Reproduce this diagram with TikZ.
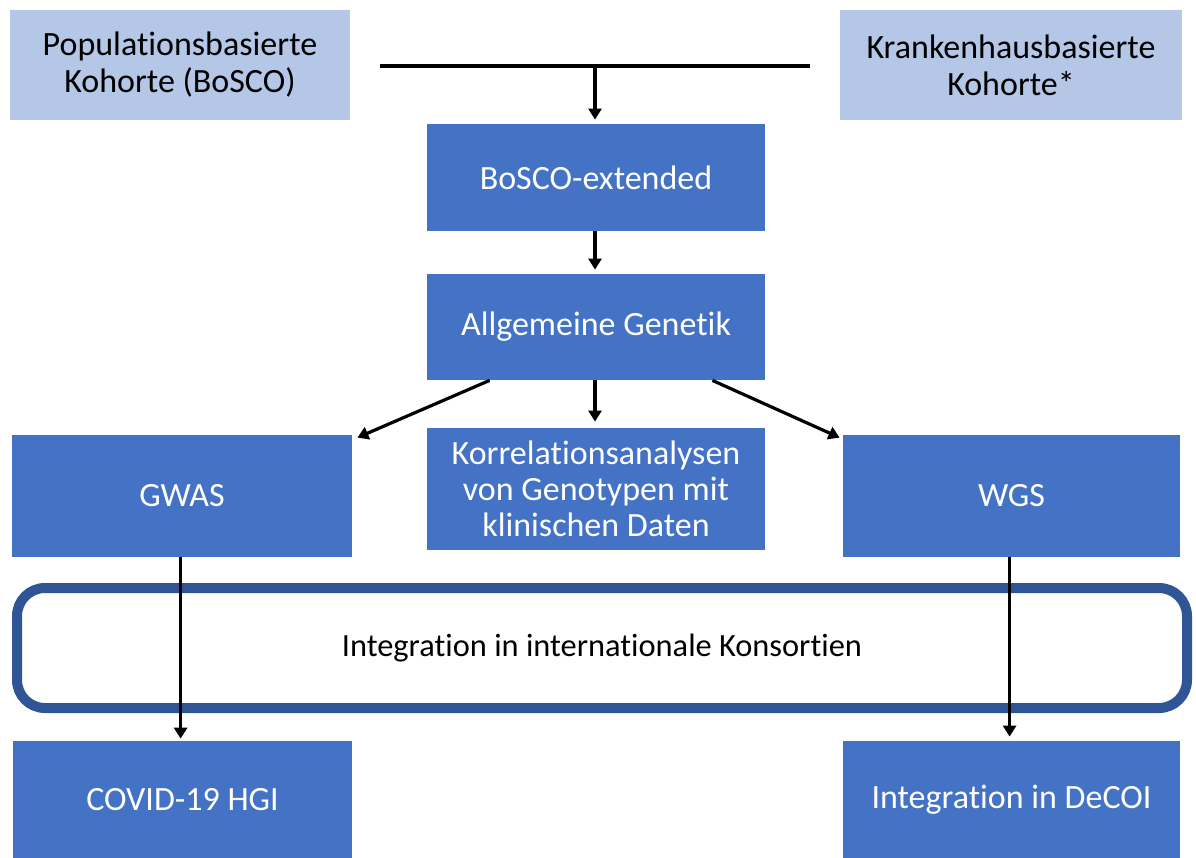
\documentclass[tikz,border=0pt]{standalone}
\usepackage{fontspec}
\setmainfont[Ligatures={NoCommon}]{Carlito}
\usetikzlibrary{arrows.meta,calc}
\definecolor{lightbox}{HTML}{B4C7E7}
\definecolor{darkbox}{HTML}{4472C4}
\definecolor{frameblue}{HTML}{2F5597}
\begin{document}
\begin{tikzpicture}[x=0.5pt,y=-0.5pt,
  lbox/.style={fill=lightbox,draw=none,align=center,text=black,inner sep=0pt,
    font=\fontsize{17pt}{18.5pt}\selectfont},
  dbox/.style={fill=darkbox,draw=none,align=center,text=white,inner sep=0pt,
    font=\fontsize{17pt}{18pt}\selectfont},
  arr/.style={line width=1.6pt,-{Triangle[width=6.5pt,length=5.5pt]}},
  plain/.style={line width=1.6pt}]
\useasboundingbox (0,0) rectangle (1196,858);
\node[lbox,minimum width=170pt,minimum height=55pt] (pop) at (180,65) {Populationsbasierte\\Kohorte (BoSCO)};
\node[lbox,minimum width=171pt,minimum height=55pt] (kh) at (1011,65) {Krankenhausbasierte\\Kohorte*};
\node[dbox,minimum width=169pt,minimum height=53.5pt] (bosco) at (596,177.5) {BoSCO-extended};
\node[dbox,minimum width=169pt,minimum height=53pt] (allg) at (596,327) {Allgemeine Genetik};
\node[dbox,minimum width=170pt,minimum height=61pt] (gwas) at (182,496) {GWAS};
\node[dbox,minimum width=169pt,minimum height=61pt] (korr) at (596,489) {Korrelationsanalysen\\von Genotypen mit\\klinischen Daten};
\node[dbox,minimum width=168.5pt,minimum height=61pt] (wgs) at (1011.5,496) {WGS};
\node[draw=frameblue,line width=5pt,rounded corners=14pt,minimum width=585pt,minimum height=60pt,
  inner sep=0pt,font=\fontsize{16.2pt}{18pt}\selectfont,text=black] (integ) at (602,648) {\raisebox{-1pt}{Integration in internationale Konsortien}};
\node[dbox,minimum width=169.5pt,minimum height=58.5pt] (covid) at (182.5,799.5) {COVID-19 HGI};
\node[dbox,minimum width=168.5pt,minimum height=58.5pt] (decoi) at (1011.5,799.5) {Integration in DeCOI};
\coordinate (L) at (380,66);
\coordinate (R) at (810,66);
\coordinate (J) at (595,66);
\draw[plain] (L) -- (R);
\draw[arr,shorten >=2pt] (J) -- (J |- bosco.north);
\draw[arr,shorten >=2pt] (bosco.south -| J) -- (allg.north -| J);
\draw[arr] ($(allg.south west)+(63,0)$) -- ($(gwas.north east)+(5,3)$);
\draw[arr,shorten >=3pt] (allg.south -| J) -- (korr.north -| J);
\draw[arr] ($(allg.south east)+(-53,0)$) -- ($(wgs.north west)+(-3,3)$);
\draw[arr,shorten >=1pt] ($(gwas.south west)+(169,0)$) -- ($(covid.north west)+(168,0)$);
\draw[arr,shorten >=2pt] ($(wgs.south west)+(167,0)$) -- ($(decoi.north west)+(167,0)$);
\end{tikzpicture}
\end{document}
